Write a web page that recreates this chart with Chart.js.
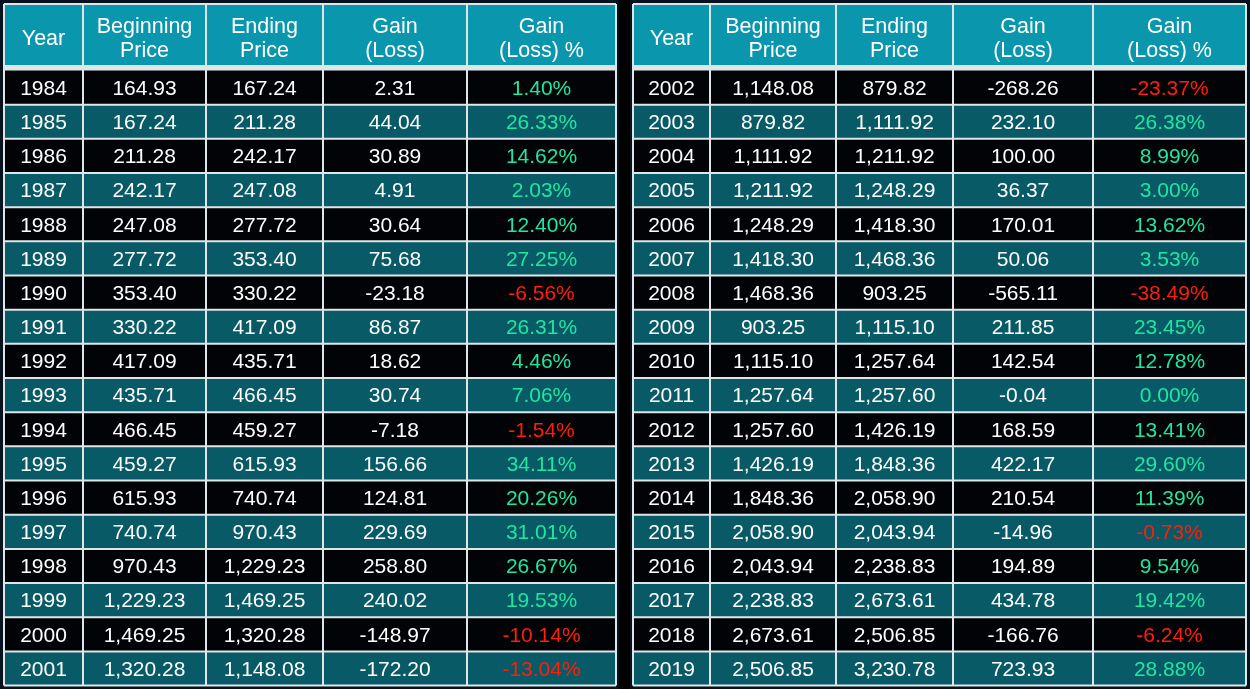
<!DOCTYPE html>
<html><head><meta charset="utf-8">
<script src="https://cdn.jsdelivr.net/npm/chart.js@4"></script>
<style>html,body{margin:0;padding:0;background:#07121f;}canvas{display:block;}</style>
</head><body>
<canvas id="c" width="1250" height="689"></canvas>
<script>
// ---- Data ----
const headers = ["Year", "Beginning\nPrice", "Ending\nPrice", "Gain\n(Loss)", "Gain\n(Loss) %"];

const yearsA = [1984,1985,1986,1987,1988,1989,1990,1991,1992,1993,1994,1995,1996,1997,1998,1999,2000,2001];
const beginA = [164.93,167.24,211.28,242.17,247.08,277.72,353.40,330.22,417.09,435.71,466.45,459.27,615.93,740.74,970.43,1229.23,1469.25,1320.28];
const endA   = [167.24,211.28,242.17,247.08,277.72,353.40,330.22,417.09,435.71,466.45,459.27,615.93,740.74,970.43,1229.23,1469.25,1320.28,1148.08];
const gainA  = [2.31,44.04,30.89,4.91,30.64,75.68,-23.18,86.87,18.62,30.74,-7.18,156.66,124.81,229.69,258.80,240.02,-148.97,-172.20];
const pctA   = [1.40,26.33,14.62,2.03,12.40,27.25,-6.56,26.31,4.46,7.06,-1.54,34.11,20.26,31.01,26.67,19.53,-10.14,-13.04];

const yearsB = [2002,2003,2004,2005,2006,2007,2008,2009,2010,2011,2012,2013,2014,2015,2016,2017,2018,2019];
const beginB = [1148.08,879.82,1111.92,1211.92,1248.29,1418.30,1468.36,903.25,1115.10,1257.64,1257.60,1426.19,1848.36,2058.90,2043.94,2238.83,2673.61,2506.85];
const endB   = [879.82,1111.92,1211.92,1248.29,1418.30,1468.36,903.25,1115.10,1257.64,1257.60,1426.19,1848.36,2058.90,2043.94,2238.83,2673.61,2506.85,3230.78];
const gainB  = [-268.26,232.10,100.00,36.37,170.01,50.06,-565.11,211.85,142.54,-0.04,168.59,422.17,210.54,-14.96,194.89,434.78,-166.76,723.93];
const pctB   = [-23.37,26.38,8.99,3.00,13.62,3.53,-38.49,23.45,12.78,0.00,13.41,29.60,11.39,-0.73,9.54,19.42,-6.24,28.88];

// ---- Layout / style ----
const colEdgesA = [4, 83, 206, 323, 467, 616];
const colEdgesB = [633, 710, 836, 953, 1093, 1246];
const headerTop = -1.946;   // in row units (row 0 starts at 0)
const headerBottom = -0.16;
const C = {
  bg: '#07121f', header: '#0a97ad', dark: '#010306', teal: '#075a66',
  line: '#dfe6ea', text: '#ffffff', green: '#20e6a0', red: '#ff1e0a'
};
const fmt = v => v.toLocaleString('en-US', {minimumFractionDigits: 2, maximumFractionDigits: 2});

const tables = [
  {edges: colEdgesA, years: yearsA, begin: beginA, end: endA, gain: gainA, pct: pctA},
  {edges: colEdgesB, years: yearsB, begin: beginB, end: endB, gain: gainB, pct: pctB}
];

const tablePlugin = {
  id: 'tablePlugin',
  beforeDraw(chart) {
    const ctx = chart.ctx, xs = chart.scales.x, ys = chart.scales.y;
    const X = v => xs.getPixelForValue(v), Y = v => ys.getPixelForValue(v);
    ctx.save();
    ctx.fillStyle = C.bg;
    ctx.fillRect(0, 0, chart.width, chart.height);
    // dark separator strip between tables
    ctx.fillStyle = '#000000';
    ctx.fillRect(X(619), 0, X(630) - X(619), chart.height);

    tables.forEach(t => {
      const e = t.edges, n = t.years.length;
      const left = X(e[0]), right = X(e[e.length - 1]);
      // header
      ctx.fillStyle = C.header;
      ctx.fillRect(left, Y(headerTop), right - left, Y(headerBottom) - Y(headerTop));
      // rows
      for (let r = 0; r < n; r++) {
        ctx.fillStyle = r % 2 === 0 ? C.dark : C.teal;
        ctx.fillRect(left, Y(r), right - left, Y(r + 1) - Y(r));
      }
      // grid lines
      ctx.strokeStyle = C.line;
      ctx.lineWidth = 2;
      ctx.beginPath();
      e.forEach(x => { ctx.moveTo(X(x), Y(headerTop)); ctx.lineTo(X(x), Y(n)); });
      ctx.moveTo(left, Y(headerTop)); ctx.lineTo(right, Y(headerTop));
      for (let r = 1; r <= n; r++) { ctx.moveTo(left, Y(r)); ctx.lineTo(right, Y(r)); }
      ctx.stroke();
      // thick header separator
      ctx.fillStyle = C.line;
      ctx.fillRect(left, Y(headerBottom), right - left, Y(0) - Y(headerBottom));

      // header text
      ctx.textAlign = 'center';
      ctx.textBaseline = 'middle';
      ctx.fillStyle = C.text;
      ctx.font = '21.5px "Liberation Sans", Arial, sans-serif';
      const hMid = (Y(headerTop) + Y(headerBottom)) / 2 + 4.5;
      headers.forEach((h, i) => {
        const cx = (X(e[i]) + X(e[i + 1])) / 2;
        const lines = h.split('\n');
        if (lines.length === 1) ctx.fillText(lines[0], cx, hMid);
        else { ctx.fillText(lines[0], cx, hMid - 12); ctx.fillText(lines[1], cx, hMid + 12); }
      });

      // body text
      ctx.font = '21px "Liberation Sans", Arial, sans-serif';
      for (let r = 0; r < n; r++) {
        const cy = (Y(r) + Y(r + 1)) / 2 + 1.5;
        const cells = [String(t.years[r]), fmt(t.begin[r]), fmt(t.end[r]), fmt(t.gain[r]), fmt(t.pct[r]) + '%'];
        cells.forEach((s, i) => {
          const cx = (X(e[i]) + X(e[i + 1])) / 2;
          ctx.fillStyle = i === 4 ? (t.pct[r] < 0 ? C.red : C.green) : C.text;
          ctx.fillText(s, cx, cy);
        });
      }
    });
    ctx.restore();
  }
};

const rowPx = 34.17, row0Top = 70.5;
new Chart(document.getElementById('c'), {
  type: 'scatter',
  data: { datasets: [{ data: [], pointRadius: 0 }] },
  options: {
    responsive: false, animation: false, devicePixelRatio: 1,
    layout: { padding: 0 },
    plugins: { legend: { display: false }, tooltip: { enabled: false } },
    scales: {
      x: { type: 'linear', min: 0, max: 1250, display: false },
      y: { type: 'linear', reverse: true, min: -row0Top / rowPx, max: (689 - row0Top) / rowPx, display: false }
    }
  },
  plugins: [tablePlugin]
});
</script>
</body></html>
